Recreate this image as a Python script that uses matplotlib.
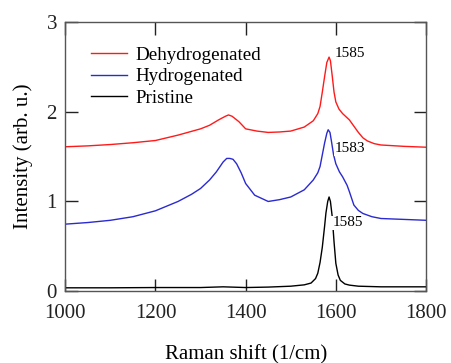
import matplotlib
matplotlib.use("Agg")
import matplotlib.pyplot as plt

# Raman spectra
x_dehyd = [1000, 1050, 1100, 1150, 1200, 1250, 1300, 1320, 1340, 1355, 1362, 1370, 1385,
           1400, 1425, 1450, 1475, 1500, 1530, 1550, 1560, 1565, 1570, 1575, 1580, 1585,
           1588, 1592, 1596, 1600, 1607, 1615, 1630, 1640, 1650, 1660, 1670, 1685, 1700,
           1750, 1800]
y_dehyd = [1.61, 1.62, 1.635, 1.655, 1.68, 1.74, 1.81, 1.85, 1.91, 1.95, 1.965, 1.95, 1.89,
           1.81, 1.785, 1.77, 1.775, 1.785, 1.83, 1.90, 1.98, 2.06, 2.22, 2.39, 2.55, 2.61,
           2.57, 2.40, 2.22, 2.11, 2.03, 1.98, 1.91, 1.84, 1.77, 1.71, 1.675, 1.645, 1.63,
           1.615, 1.605]

x_hyd = [1000, 1050, 1100, 1150, 1200, 1250, 1280, 1300, 1320, 1335, 1350, 1358, 1365,
         1372, 1380, 1390, 1400, 1420, 1450, 1475, 1500, 1530, 1550, 1560, 1565, 1570,
         1575, 1580, 1583, 1587, 1590, 1595, 1600, 1608, 1615, 1625, 1630, 1640, 1650,
         1660, 1680, 1700, 1750, 1800]
y_hyd = [0.747, 0.765, 0.79, 0.83, 0.896, 1.0, 1.08, 1.145, 1.24, 1.33, 1.44, 1.48, 1.48,
         1.47, 1.42, 1.32, 1.20, 1.07, 1.0, 1.02, 1.05, 1.13, 1.24, 1.32, 1.39, 1.52,
         1.65, 1.76, 1.80, 1.77, 1.68, 1.52, 1.42, 1.33, 1.275, 1.18, 1.11, 0.96, 0.90,
         0.866, 0.83, 0.81, 0.80, 0.79]

x_pris = [1000, 1100, 1200, 1300, 1350, 1400, 1450, 1500, 1530, 1545, 1555, 1560, 1565,
          1570, 1575, 1578, 1582, 1585, 1588, 1592, 1596, 1600, 1605, 1610, 1620, 1630,
          1650, 1700, 1750, 1800]
y_pris = [0.037, 0.037, 0.04, 0.04, 0.048, 0.04, 0.045, 0.055, 0.07, 0.09, 0.14, 0.2, 0.32,
          0.49, 0.72, 0.87, 1.0, 1.05, 1.0, 0.83, 0.55, 0.31, 0.18, 0.12, 0.08, 0.067,
          0.055, 0.048, 0.048, 0.048]

peak_labels = ["1585", "1583", "1585"]
peak_label_x = [1598, 1597, 1592]
peak_label_y = [2.65, 1.59, 0.76]

plt.rcParams["font.family"] = ["Liberation Serif", "DejaVu Serif"]

fig = plt.figure(figsize=(4.51, 3.63), dpi=100)
ax = fig.add_axes([0.1448, 0.198, 0.7998, 0.741])

ax.plot(x_dehyd, y_dehyd, color="#ff1a1a", lw=1.0, label="Dehydrogenated")
ax.plot(x_hyd, y_hyd, color="#2a2ad0", lw=1.0, label="Hydrogenated")
ax.plot(x_pris, y_pris, color="black", lw=1.0, label="Pristine")

for txt, tx, ty in zip(peak_labels, peak_label_x, peak_label_y):
    ax.text(tx, ty, txt, fontsize=11, ha="left", va="center",
            bbox=dict(facecolor="white", edgecolor="none", pad=0.5))

ax.set_xlim(1000, 1800)
ax.set_ylim(0, 3)
ax.set_xticks([1000, 1200, 1400, 1600, 1800])
ax.set_yticks([0, 1, 2, 3])
ax.tick_params(direction="in", length=9, width=1, top=True, right=True,
               labelsize=15, colors="#222222")
ax.tick_params(axis="x", pad=9)
ax.tick_params(axis="y", pad=6)
for s in ax.spines.values():
    s.set_color("#555555")
    s.set_linewidth(1.0)

ax.set_xlabel("Raman shift (1/cm)", fontsize=15, labelpad=16)
ax.set_ylabel("Intensity (arb. u.)", fontsize=15, labelpad=10)

ax.legend(loc="upper left", bbox_to_anchor=(0.07, 0.91), frameon=False,
          fontsize=13.7, handlelength=1.9, handletextpad=0.45, labelspacing=0.22,
          borderaxespad=0, borderpad=0)

fig.savefig("out.png", dpi=100)
